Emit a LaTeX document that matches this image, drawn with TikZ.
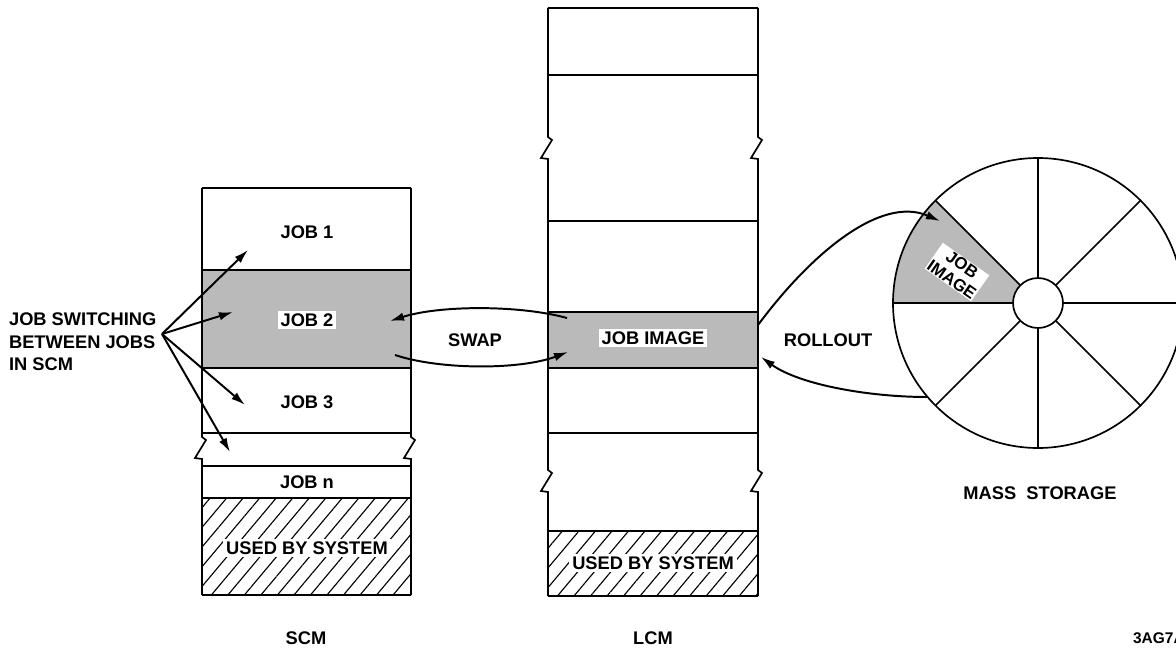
\documentclass[tikz,border=0pt]{standalone}
\usepackage{fontspec}
\setmainfont{Liberation Sans}
\usetikzlibrary{arrows.meta, patterns.meta, positioning}

\begin{document}
\begin{tikzpicture}[
    x=0.025cm, y=0.025cm,
    wall/.style={draw=black, line width=1.2pt},
    shade/.style={fill=black!27},
    hatch/.style={pattern={Lines[angle=50, distance=9pt, line width=0.8pt]}},
    lbl/.style={font=\bfseries\fontsize{13}{15}\selectfont, inner sep=2pt},
    tag/.style={lbl, fill=white},
    flow/.style={draw, line width=1.4pt, -{Latex[length=10pt, width=6pt]}},
    zz/.style={insert path={-- ++(4,-3) -- ++(-11,-18) -- ++(7,-1)}}
]
\useasboundingbox (0,0) rectangle (1176,-650);

% SCM column
\fill[shade] (202,-270) rectangle (411,-368);
\fill[hatch] (202,-498) rectangle (411,-595);
\foreach \y in {188,270,368,433,466,498,595}
    \draw[wall] (202,-\y) -- (411,-\y);
\draw[wall] (202,-188) -- (202,-437) [zz] -- (202,-595);
\draw[wall] (411,-188) -- (411,-437) [zz] -- (411,-595);

% LCM column
\fill[shade] (548,-312) rectangle (758,-368);
\fill[hatch] (548,-531) rectangle (758,-596);
\foreach \y in {8,75,221,312,368,433,531,596}
    \draw[wall] (548,-\y) -- (758,-\y);
\draw[wall] (548,-8) -- (548,-137) [zz] -- (548,-470) [zz] -- (548,-596);
\draw[wall] (758,-8) -- (758,-137) [zz] -- (758,-470) [zz] -- (758,-596);

% Mass storage disk
\coordinate (disk) at (1038,-303);
\fill[shade] (disk) -- ++(135:145) arc[start angle=135, end angle=180, radius=145] -- cycle;
\foreach \a in {0,45,...,315}
    \draw[wall] (disk) ++(\a:25) -- ++(\a:120);
\draw[wall] (disk) circle[radius=145];
\draw[wall, fill=white] (disk) circle[radius=25];

% Labels
\node[lbl] (job1) at (307,-232) {JOB 1};
\node[tag] (job2) at (307,-320) {JOB 2};
\node[lbl] (job3) at (307,-402) {JOB 3};
\node[lbl] (jobn) at (307,-482) {JOB n};
\node[tag] (sys1) at (307,-548) {USED BY SYSTEM};
\node[lbl] (scm) at (306,-638) {SCM};

\node[tag] (img) at (653,-338) {JOB IMAGE};
\node[tag] (sys2) at (653,-563) {USED BY SYSTEM};
\node[lbl] (lcm) at (653,-638) {LCM};

\node[tag, align=center, rotate=-35, inner sep=0.5pt, font=\bfseries\fontsize{12}{13}\selectfont]
    (dimg) at (957,-272) {JOB\\IMAGE};
\node[lbl] (mass) at (1040,-493) {MASS\ \ STORAGE};
\node[lbl, anchor=west, font=\bfseries\fontsize{11}{13}\selectfont] (fig) at (1130,-638) {3AG7A};

\node[lbl, anchor=west, align=left, font=\bfseries\fontsize{13}{16}\selectfont] (sw) at (6,-342)
    {JOB SWITCHING\\BETWEEN JOBS\\IN SCM};
\node[lbl] (swap) at (475,-340) {SWAP};
\node[lbl] (roll) at (828,-340) {ROLLOUT};

% Connections
\coordinate (src) at (162,-334);
\draw[flow] (src) -- (248,-250);
\draw[flow] (src) -- (233,-312);
\draw[flow] (src) -- (245,-405);
\draw[flow] (src) -- (230,-452);

\draw[flow] (567,-318) .. controls (520,-305) and (440,-305) .. (390,-321);
\draw[flow] (395,-355) .. controls (440,-370) and (520,-370) .. (568,-352);

\draw[flow] (758,-325) .. controls (810,-255) and (880,-195) .. (940,-221);
\draw[flow] (927,-397) .. controls (870,-397) and (800,-385) .. (761,-357);

\end{tikzpicture}
\end{document}
